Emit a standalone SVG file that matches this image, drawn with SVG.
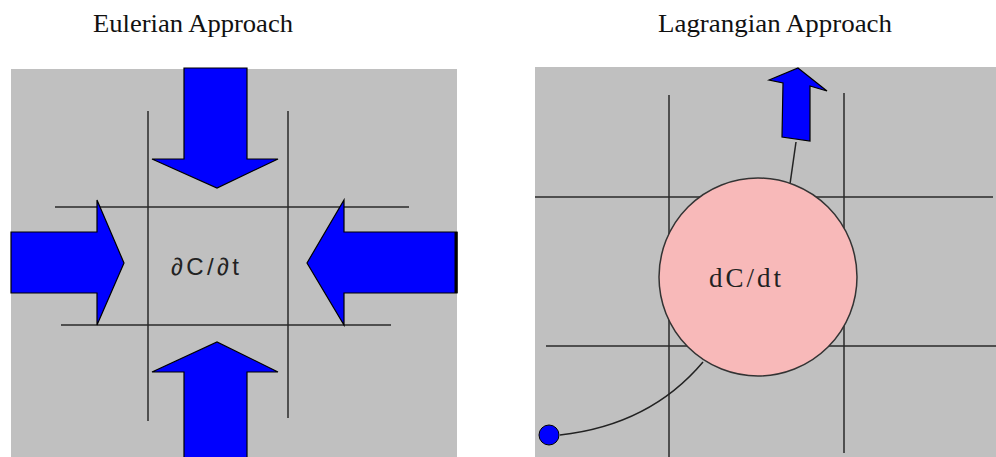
<svg xmlns="http://www.w3.org/2000/svg" width="996" height="457" viewBox="0 0 996 457">
<style>
.panel{fill:#c0c0c0}
.grid{stroke:#2a2a2a;stroke-width:1.5;fill:none}
.arrow{fill:#0000ff;stroke:#000;stroke-width:1.2;stroke-linejoin:miter}
.title{font-family:"Liberation Serif",serif;font-size:25px;fill:#111}
.sans{font-family:"Liberation Sans",sans-serif;font-size:24px;fill:#222}
.serif{font-family:"Liberation Serif",serif;font-size:27px;fill:#222}
.conn{stroke:#222;stroke-width:1.5;fill:none}
</style>
<rect width="996" height="457" fill="#ffffff"/>
<text class="title" x="93" y="32" textLength="200" lengthAdjust="spacingAndGlyphs">Eulerian Approach</text>
<text class="title" x="658" y="32" textLength="234" lengthAdjust="spacingAndGlyphs">Lagrangian Approach</text>

<g id="eulerian">
<rect class="panel" x="11" y="69" width="446" height="388"/>
<g id="eulerian-grid">
<line class="grid" x1="148" y1="111" x2="148" y2="421"/>
<line class="grid" x1="288" y1="111" x2="288" y2="418"/>
<line class="grid" x1="55" y1="207" x2="409" y2="207"/>
<line class="grid" x1="61" y1="325" x2="391" y2="325"/>
</g>
<g id="arrow-top"><polygon class="arrow" points="184,68 247,68 247,159 278,159 217,188 152,159 184,159"/></g>
<g id="arrow-bottom"><polygon class="arrow" points="184,458 247,458 247,372 278,372 217,342 152,372 184,372"/></g>
<g id="arrow-left"><polygon class="arrow" points="11,232 97,232 97,200 124,263 97,325 97,293 11,293"/></g>
<g id="arrow-right"><polygon class="arrow" points="457,232 344,232 344,200 307,263 344,325 344,293 457,293"/>
<line x1="456" y1="232" x2="456" y2="293" stroke="#000" stroke-width="3"/></g>
<g id="eulerian-label"><text class="sans" x="171" y="275" textLength="68" lengthAdjust="spacing">∂C/∂t</text></g>
</g>

<g id="lagrangian">
<rect class="panel" x="535" y="67" width="461" height="390"/>
<g id="lagrangian-grid">
<line class="grid" x1="669" y1="95" x2="669" y2="457"/>
<line class="grid" x1="844" y1="93" x2="844" y2="453"/>
<line class="grid" x1="535" y1="197" x2="993" y2="197"/>
<line class="grid" x1="546" y1="346" x2="996" y2="346"/>
</g>
<g id="connectors">
<path class="conn" d="M796,142 L790,184"/>
<path class="conn" d="M703,362 Q650,425 560,435"/>
</g>
<g id="parcel">
<circle cx="758" cy="277" r="99" fill="#f8b9b9" stroke="#333" stroke-width="1.5"/>
<text class="serif" x="709" y="287" textLength="72" lengthAdjust="spacing">dC/dt</text>
</g>
<g id="arrow-up"><polygon class="arrow" points="798,68 827,91 810,86 810,141 782,137 783,83 769,80"/></g>
<g id="origin"><circle cx="549" cy="435" r="10" fill="#0000ff" stroke="#000" stroke-width="1"/></g>
</g>
</svg>
